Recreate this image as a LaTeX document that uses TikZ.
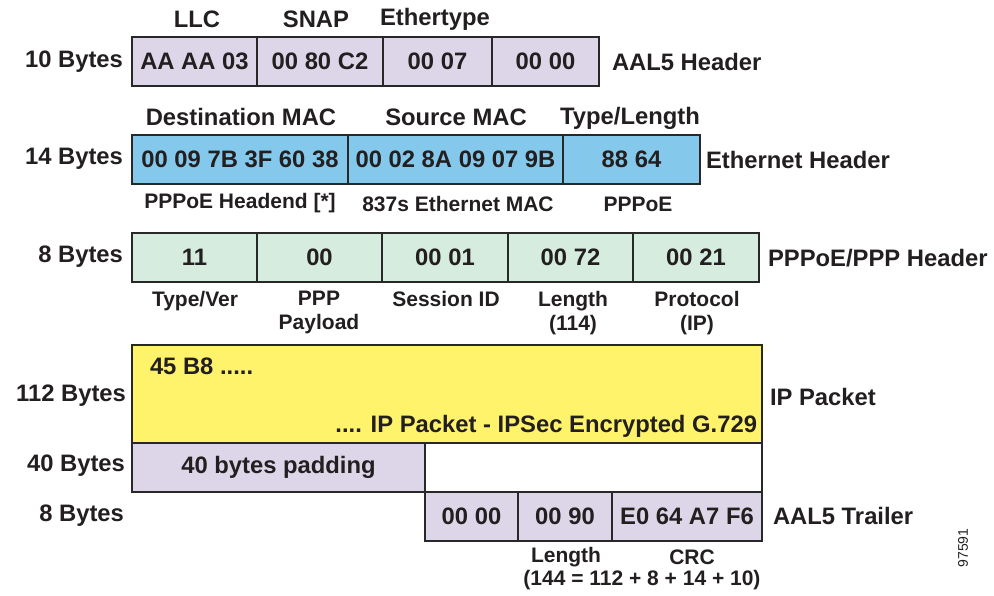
\documentclass[tikz,border=0pt]{standalone}
\usepackage{fontspec}
\setmainfont{Liberation Sans}
\definecolor{lav}{RGB}{221,214,232}
\definecolor{eblue}{RGB}{132,201,236}
\definecolor{pgreen}{RGB}{214,236,222}
\definecolor{ipyel}{RGB}{255,243,107}
\definecolor{ink}{RGB}{35,31,32}
\definecolor{edge}{RGB}{40,40,40}
\tikzset{
  every node/.style={text=ink, font=\fontsize{23.8}{26}\selectfont\bfseries, inner sep=0pt, outer sep=0pt},
  cell/.style={draw=edge, line width=1.1pt, fill=#1, minimum height=49pt, anchor=north west},
  lbl/.style={align=center},
  sub/.style={align=center, font=\fontsize{21}{24}\selectfont\bfseries},
  rlbl/.style={anchor=east},
  llbl/.style={anchor=west},
}
\begin{document}
\begin{tikzpicture}[x=1pt,y=-1pt]
\useasboundingbox (0,0) rectangle (994,596);
% Row 1: AAL5 header
\node[cell=lav, minimum width=125pt] (a1) at (132,37) {AA AA 03};
\node[cell=lav, minimum width=126pt] (a2) at (257,37) {00 80 C2};
\node[cell=lav, minimum width=109pt] (a3) at (383,37) {00 07};
\node[cell=lav, minimum width=107pt] (a4) at (492,37) {00 00};
\node[lbl] (llc) at (197,19) {LLC};
\node[lbl] (snap) at (316,19) {SNAP};
\node[lbl] (ethtype) at (435,19) {Ethertype};
\node[rlbl] (b10) at (123,62) {10 Bytes};
\node[llbl] (aalh) at (612,62) {AAL5 Header};
% Row 2: Ethernet header
\node[cell=eblue, minimum width=216pt] (e1) at (132,135) {00 09 7B 3F 60 38};
\node[cell=eblue, minimum width=215pt] (e2) at (348,135) {00 02 8A 09 07 9B};
\node[cell=eblue, minimum width=137pt] (e3) at (563,135) {88 64};
\node[lbl] (dmac) at (241,117) {Destination MAC};
\node[lbl] (smac) at (456,117) {Source MAC};
\node[lbl] (tl) at (630,118) {Type/Length};
\node[sub] (hend) at (240,203) {PPPoE Headend [*]};
\node[sub] (emac) at (458,204) {837s Ethernet MAC};
\node[sub] (ppoe) at (638,204) {PPPoE};
\node[rlbl] (b14) at (123,159) {14 Bytes};
\node[llbl] (ethh) at (706,160) {Ethernet Header};
% Row 3: PPPoE/PPP header
\node[cell=pgreen, minimum width=125pt] (p1) at (132,233) {11};
\node[cell=pgreen, minimum width=125pt] (p2) at (257,233) {00};
\node[cell=pgreen, minimum width=126pt] (p3) at (382,233) {00 01};
\node[cell=pgreen, minimum width=125pt] (p4) at (508,233) {00 72};
\node[cell=pgreen, minimum width=126pt] (p5) at (633,233) {00 21};
\node[sub, anchor=north] (tv) at (195,291) {Type/Ver};
\node[sub, anchor=north] (pp) at (319,291) {PPP\\Payload};
\node[sub, anchor=north] (sid) at (446,291) {Session ID};
\node[sub, anchor=north] (len) at (573,291) {Length\\(114)};
\node[sub, anchor=north] (proto) at (697,291) {Protocol\\(IP)};
\node[rlbl] (b8a) at (123,257) {8 Bytes};
\node[llbl] (ppph) at (768,258) {PPPoE/PPP Header};
% Row 4: IP packet
\node[cell=ipyel, minimum width=630pt, minimum height=98pt] (ip) at (132,345) {};
\node[anchor=west] (ipstart) at (150,366) {45 B8 .....};
\node[anchor=east] (ipend) at (757,426) {.... IP Packet - IPSec Encrypted G.729};
\node[rlbl] (b112) at (126,396) {112 Bytes};
\node[llbl] (iph) at (770,397) {IP Packet};
% Row 5: padding
\node[cell=lav, minimum width=293pt] (pad) at (132,443) {40 bytes padding};
\node[cell=white, minimum width=337pt] (blank) at (425,443) {};
\node[rlbl] (b40) at (125,466) {40 Bytes};
% Row 6: AAL5 trailer
\node[cell=lav, minimum width=93pt] (t1) at (425,492) {00 00};
\node[cell=lav, minimum width=94pt] (t2) at (518,492) {00 90};
\node[cell=lav, minimum width=150pt] (t3) at (612,492) {E0 64 A7 F6};
\node[rlbl] (b8b) at (124,516) {8 Bytes};
\node[llbl] (aalt) at (773,516) {AAL5 Trailer};
\node[sub] (tlen) at (566,557) {Length};
\node[sub] (crc) at (692,557) {CRC};
\node[sub] (calc) at (642,580) {(144 = 112 + 8 + 14 + 10)};
\node[rotate=90, font=\fontsize{14}{16}\selectfont] (fig) at (963,548) {97591};
\end{tikzpicture}
\end{document}
